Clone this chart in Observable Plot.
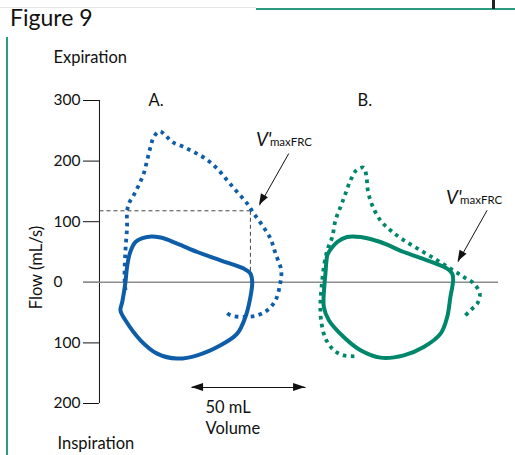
<!DOCTYPE html>
<html>
<head>
<meta charset="utf-8">
<script src="https://cdn.jsdelivr.net/npm/d3@7"></script>
<script src="https://cdn.jsdelivr.net/npm/@observablehq/plot@0.6"></script>
<style>
  html, body { margin: 0; padding: 0; background: #fff; }
  #wrap { position: relative; width: 515px; height: 455px; overflow: hidden; font-family: Lato, "Open Sans", sans-serif; }
  #title { position: absolute; left: 10px; top: 3px; font-size: 23px; color: #111; line-height: 28px; }
  .bar { position: absolute; }
  #chart { position: absolute; left: 0; top: 35px; }
</style>
</head>
<body>
<div id="wrap">
  <div class="bar" style="left:0;top:7px;width:256px;height:1px;background:#e3e8e6;"></div>
  <div class="bar" style="left:256px;top:8px;width:259px;height:2px;background:#2a9a80;"></div>
  <div class="bar" style="left:492px;top:0;width:3px;height:9px;background:#222;"></div>
  <div id="title">Figure 9</div>
  <div id="chart"></div>
  <div class="bar" style="left:6px;top:37px;width:2px;height:418px;background:#2a9a80;"></div>
</div>
<script>
// ---- Data (volume in mL, flow in mL/s; expiration positive) ----
// Loop A, tidal (solid)
const loopASolidVol  = [11.4, 10.0, 9.2, 11.4, 18.0, 25.3, 34.1, 42.9, 53.1, 60.4, 64.0, 66.2, 67.0, 66.2, 63.3, 53.1, 42.9, 34.1, 26.8, 20.9, 15.8, 13.3, 12.1];
const loopASolidFlow = [0.5, -32.5, -46.2, -62.7, -95.7, -117.7, -125.9, -120.5, -104, -84.7, -57.3, -24.3, 0.5, 14.4, 22.6, 36.3, 50, 63.9, 73.8, 74.8, 66.5, 47.4, 25.2];
// Loop A, forced (dotted)
const loopADotVol  = [11.4, 11.0, 11.4, 12.1, 12.1, 12.9, 15.0, 17.2, 19.4, 20.9, 22.4, 23.8, 26.4, 28.9, 31.9, 36.3, 41.4, 46.5, 51.6, 56.0, 60.4, 64.8, 67.7, 71.4, 75.0, 77.2, 79.7, 79.1, 77.2, 73.6, 69.2, 63.3, 57.5, 56.0];
const loopADotFlow = [-13.2, 8.7, 52.8, 91.3, 116, 129.9, 143.6, 160.1, 179.4, 201.3, 223.3, 239.8, 249.2, 242.6, 231.5, 224.4, 215, 204.1, 187.6, 168.3, 149, 129.9, 113.4, 94.1, 72.1, 47.4, 19.8, -5, -29.7, -46.2, -54.5, -57.3, -54.5, -50.7];
// Loop B, tidal (solid)
const loopBSolidVol  = [99.9, 99.1, 98.7, 98.4, 100.6, 107.1, 114.5, 123.2, 133.5, 142.2, 149.6, 152.5, 153.9, 155.1, 154.7, 152.5, 143.7, 133.5, 123.2, 114.5, 108.6, 104.3, 100.6];
const loopBSolidFlow = [44.6, 14.4, -2.1, -40.8, -62.7, -90.3, -112.2, -124.3, -120.5, -106.8, -84.7, -57.3, -24.3, 3.3, 14.4, 22.6, 36.3, 50, 66.5, 74.8, 74.8, 66.5, 50];
// Loop B, forced (dotted)
const loopBDotVol  = [111.8, 107.1, 102.8, 99.1, 97.2, 96.9, 97.4, 98.4, 99.9, 102.1, 103.5, 105.7, 107.9, 110.1, 112.7, 115.9, 117.1, 117.7, 119.6, 123.2, 127.6, 133.5, 140.8, 148.1, 153.9, 159.8, 164.2, 166.8, 165.7, 162.7, 159.5];
const loopBDotFlow = [-122.1, -120.5, -112.2, -92.4, -62.7, -35.1, -7.8, 25.2, 52.8, 74.8, 102.3, 124.3, 146.4, 168.3, 184.8, 189.3, 173.8, 151.8, 127.1, 102.3, 85.8, 69.3, 52.8, 36.3, 22.6, 8.7, -2.1, -18.6, -35.1, -46.2, -58.3];

// V'maxFRC reference point for loop A
const vmaxVol = 66.2, vmaxFlow = 118;

// Axis ticks
const yTicks = [300, 200, 100, 0, -100, -200];
const yTickLabels = ["300", "200", "100", "0", "100", "200"];

// Annotation labels
const labelText = ["Expiration", "Inspiration", "A.", "B.", "50 mL", "Volume"];
const labelVol  = [-20.2, -18.4, 21.5, 113.2, 46.5, 46.5];
const labelFlow = [371, -266, 300, 300, -206.6, -241.3];

// V'maxFRC labels and pointer arrows
const vLabelVol  = [68.6, 152.0];
const vLabelFlow = [225.7, 130];
const arrowX1 = [83.0, 170.0], arrowY1 = [212.4, 118.8];
const arrowX2 = [70.2, 157.3], arrowY2 = [127.1, 33.8];

// 50 mL volume scale bar
const scaleBarVol = [40.4, 90.4];
const scaleBarFlow = -173.6;

// ---- Build tables ----
const pts = (vs, fs) => vs.map((v, i) => ({vol: v, flow: fs[i]}));
const aSolid = pts(loopASolidVol, loopASolidFlow);
const aDot = pts(loopADotVol, loopADotFlow);
const bSolid = pts(loopBSolidVol, loopBSolidFlow);
const bDot = pts(loopBDotVol, loopBDotFlow);
const ticks = yTicks.map((t, i) => ({flow: t, label: yTickLabels[i]}));
const labels = labelText.map((t, i) => ({text: t, vol: labelVol[i], flow: labelFlow[i]}));
const vLabels = vLabelVol.map((v, i) => ({vol: v, flow: vLabelFlow[i]}));
const arrows = arrowX1.map((x, i) => ({x1: x, y1: arrowY1[i], x2: arrowX2[i], y2: arrowY2[i]}));
const scaleArrows = [
  {x1: (scaleBarVol[0] + scaleBarVol[1]) / 2, y1: scaleBarFlow, x2: scaleBarVol[0], y2: scaleBarFlow},
  {x1: (scaleBarVol[0] + scaleBarVol[1]) / 2, y1: scaleBarFlow, x2: scaleBarVol[1], y2: scaleBarFlow}
];

const BLUE = "#0e5da8";
const GREEN = "#00876b";

// Filled arrowheads drawn through Plot's scales
function arrowHeads(data, len, half) {
  return (index, scales) => {
    const g = d3.create("svg:g");
    for (const d of data) {
      const x1 = scales.x(d.x1), y1 = scales.y(d.y1), x2 = scales.x(d.x2), y2 = scales.y(d.y2);
      const dx = x2 - x1, dy = y2 - y1, L = Math.hypot(dx, dy), ux = dx / L, uy = dy / L;
      const bx = x2 - ux * len, by = y2 - uy * len;
      g.append("path")
        .attr("d", `M${x2},${y2}L${bx - uy * half},${by + ux * half}L${bx + uy * half},${by - ux * half}Z`)
        .attr("fill", "#111");
    }
    return g.node();
  };
}

const dotted = {strokeWidth: 3.8, strokeDasharray: "3.6,4.4", strokeLinecap: "butt"};

const chart = Plot.plot({
  width: 515,
  height: 420,
  marginLeft: 83,
  marginRight: 17,
  marginTop: 65,
  marginBottom: 52,
  x: {domain: [-7, 175], axis: null},
  y: {domain: [-200, 300], axis: null},
  style: {fontFamily: "Lato, 'Open Sans', sans-serif", fontSize: "16px", background: "transparent", color: "#111", overflow: "visible"},
  marks: [
    // y axis
    Plot.ruleX([0], {y1: -200, y2: 300, stroke: "#111", strokeWidth: 1}),
    Plot.ruleY(ticks, {y: "flow", x1: -7, x2: 0, stroke: "#111", strokeWidth: 1}),
    Plot.text(ticks, {x: -20.2, y: "flow", text: "label", textAnchor: "start", fontSize: 15.5, fill: "#111"}),
    Plot.text(["Flow (mL/s)"], {x: -27.6, y: 24.4, text: d => d, rotate: -90, fontSize: 16.5, fill: "#111"}),
    // zero line
    Plot.ruleY([0], {x1: -7, x2: 175, stroke: "#8c8c8c", strokeWidth: 1.5}),
    // V'maxFRC dashed guides (loop A)
    Plot.link([{x1: 0, y1: vmaxFlow, x2: vmaxVol, y2: vmaxFlow}, {x1: vmaxVol, y1: vmaxFlow, x2: vmaxVol, y2: 0}],
      {x1: "x1", y1: "y1", x2: "x2", y2: "y2", stroke: "#444", strokeWidth: 1, strokeDasharray: "4,3"}),
    // loops
    Plot.line(aSolid, {x: "vol", y: "flow", curve: "catmull-rom-closed", stroke: BLUE, strokeWidth: 4}),
    Plot.line(aDot, {x: "vol", y: "flow", curve: "catmull-rom", stroke: BLUE, ...dotted}),
    Plot.line(bSolid, {x: "vol", y: "flow", curve: "catmull-rom-closed", stroke: GREEN, strokeWidth: 4}),
    Plot.line(bDot, {x: "vol", y: "flow", curve: "catmull-rom", stroke: GREEN, ...dotted}),
    // pointer arrows
    Plot.link(arrows, {x1: "x1", y1: "y1", x2: "x2", y2: "y2", stroke: "#111", strokeWidth: 1}),
    arrowHeads(arrows, 11, 4),
    // scale bar
    Plot.link([{x1: scaleBarVol[0], x2: scaleBarVol[1]}], {x1: "x1", x2: "x2", y1: scaleBarFlow, y2: scaleBarFlow, stroke: "#111", strokeWidth: 1.2}),
    arrowHeads(scaleArrows, 12, 4),
    // labels
    Plot.text(labels, {x: "vol", y: "flow", text: "text", textAnchor: "start", fontSize: 16.5, fill: "#111"}),
    Plot.text(vLabels, {x: "vol", y: "flow", text: () => "V'", textAnchor: "start", lineAnchor: "bottom", fontSize: 19, fontStyle: "italic", fill: "#111"}),
    Plot.text(vLabels, {x: "vol", y: "flow", text: () => "maxFRC", textAnchor: "start", lineAnchor: "bottom", dx: 14, fontSize: 11.5, fill: "#111"})
  ]
});
document.getElementById("chart").appendChild(chart);
</script>
</body>
</html>
